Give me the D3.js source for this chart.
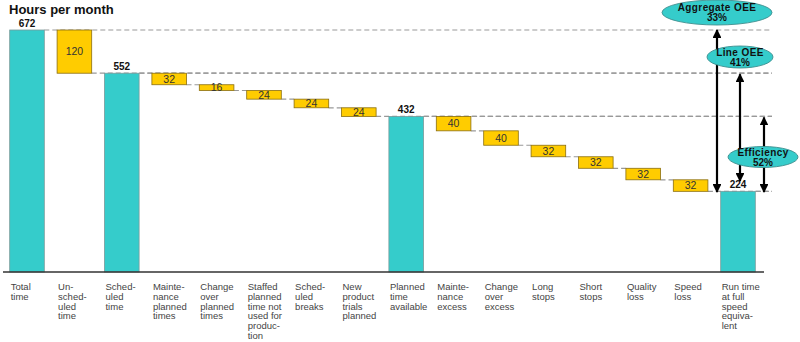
<!DOCTYPE html>
<html><head><meta charset="utf-8">
<script src="https://cdn.jsdelivr.net/npm/d3@7"></script>
<style>
html,body{margin:0;padding:0;background:#fff;}
svg{display:block;font-family:Arial,"Liberation Sans",sans-serif;}
</style></head>
<body><svg id="c" width="800" height="342"></svg>
<script>
const categories = ["Total time","Un-scheduled time","Scheduled time","Maintenance planned times","Change over planned times","Staffed planned time not used for production","Scheduled breaks","New product trials planned","Planned time available","Maintenance excess","Change over excess","Long stops","Short stops","Quality loss","Speed loss","Run time at full speed equivalent"];
const categoryLines = [["Total","time"],["Un-","sched-","uled","time"],["Sched-","uled","time"],["Mainte-","nance","planned","times"],["Change","over","planned","times"],["Staffed","planned","time not","used for","produc-","tion"],["Sched-","uled","breaks"],["New","product","trials","planned"],["Planned","time","available"],["Mainte-","nance","excess"],["Change","over","excess"],["Long","stops"],["Short","stops"],["Quality","loss"],["Speed","loss"],["Run time","at full","speed","equiva-","lent"]];
const values = [672,120,552,32,16,24,24,24,432,40,40,32,32,32,32,224];
const isTotal = [true,false,true,false,false,false,false,false,true,false,false,false,false,false,false,true];
const metricNames = ["Aggregate OEE","Line OEE","Efficiency"];
const metricValues = ["33%","41%","52%"];
const metricFrom = [672,552,432];
const metricTo = [224,224,224];

const svg = d3.select("#c");
const x = d3.scaleBand().domain(categories).range([3.3,761.7]).paddingInner(0.27).paddingOuter(0.135);
const y = d3.scaleLinear().domain([0,672]).range([272,30]);

// waterfall extents
let run = 0; const bars = [];
categories.forEach((c,i)=>{
  if(isTotal[i]){ run = values[i]; bars.push({c,i,lo:0,hi:values[i]}); }
  else { bars.push({c,i,lo:run-values[i],hi:run}); run -= values[i]; }
});

// dashed connectors
const dash = svg.append("g").attr("stroke","#999").attr("stroke-width",1.2).attr("stroke-dasharray","5,3");
bars.forEach((b,i)=>{
  if(i===bars.length-1) return;
  const next = bars[i+1];
  const level = isTotal[i] ? b.hi : b.lo;
  const x1 = x(b.c)+x.bandwidth();
  let x2 = x(next.c);
  if(isTotal[i] || isTotal[i+1]) x2 = 772;
  dash.append("line").attr("x1",x1).attr("x2",x2).attr("y1",y(level)).attr("y2",y(level));
});
dash.append("line").attr("x1",x(categories[15])+x.bandwidth()).attr("x2",772).attr("y1",y(224)).attr("y2",y(224));

// bars
svg.append("g").selectAll("rect").data(bars).join("rect")
  .attr("x",d=>x(d.c)).attr("width",x.bandwidth())
  .attr("y",d=>y(d.hi)).attr("height",d=>y(d.lo)-y(d.hi))
  .attr("fill",d=>isTotal[d.i]?"#35CCCB":"#FFCC00")
  .attr("stroke",d=>isTotal[d.i]?"#7a9a9a":"#8a6e10").attr("stroke-width",0.8);

// value labels
svg.append("g").selectAll("text").data(bars).join("text")
  .attr("x",d=>x(d.c)+x.bandwidth()/2)
  .attr("y",d=>isTotal[d.i]? y(d.hi)-3 : (y(d.hi)+y(d.lo))/2+3.8)
  .attr("text-anchor","middle")
  .attr("font-size",d=>isTotal[d.i]?10:10.5)
  .attr("font-weight",d=>isTotal[d.i]?"bold":"normal")
  .attr("fill",d=>isTotal[d.i]?"#111":"#333")
  .text(d=>values[d.i]);

// axis baseline
const ax = svg.append("g").attr("transform","translate(0,272)")
  .call(d3.axisBottom(x).tickSize(0).tickFormat(""));
ax.select(".domain").attr("d","M3,0H764").attr("stroke","#333").attr("stroke-width",1.6);

// category labels
const lab = svg.append("g").attr("font-size",9.5).attr("fill","#444");
categories.forEach((c,i)=>{
  const t = lab.append("text").attr("x",x(c)+1).attr("y",290);
  categoryLines[i].forEach((l,j)=>t.append("tspan").attr("x",x(c)+1).attr("dy",j?9.8:0).text(l));
});

// title
svg.append("text").attr("x",9).attr("y",13.5).attr("font-size",13).attr("font-weight","bold").attr("fill","#111").text("Hours per month");

// arrows
const defs = svg.append("defs");
defs.append("marker").attr("id","ah").attr("viewBox","0 0 10 10").attr("refX",9).attr("refY",5)
  .attr("markerWidth",4).attr("markerHeight",4).attr("orient","auto-start-reverse")
  .append("path").attr("d","M0,0L10,5L0,10Z").attr("fill","#000");
const arrowX = [717,740,764];
const arrowBottom = [192,181,192];
const arrowTop = [y(metricFrom[0]), y(metricFrom[1])+1, y(metricFrom[2])+1];
metricNames.forEach((m,i)=>{
  svg.append("line").attr("x1",arrowX[i]).attr("x2",arrowX[i])
    .attr("y1",arrowTop[i]).attr("y2",arrowBottom[i])
    .attr("stroke","#000").attr("stroke-width",2.2)
    .attr("marker-start","url(#ah)").attr("marker-end","url(#ah)");
});

// ellipses
const ell = [{cx:717,cy:12.5,rx:55,ry:12.5},{cx:740,cy:57,rx:33,ry:11},{cx:763,cy:157,rx:35,ry:10.5}];
ell.forEach((e,i)=>{
  svg.append("ellipse").attr("cx",e.cx).attr("cy",e.cy).attr("rx",e.rx).attr("ry",e.ry)
    .attr("fill","#35CCCB").attr("stroke","#3f8f8f").attr("stroke-width",0.9);
  svg.append("text").attr("x",e.cx).attr("y",e.cy-1.5).attr("text-anchor","middle")
    .attr("font-size",10).attr("font-weight","bold").attr("letter-spacing",0.4).attr("fill","#111").text(metricNames[i]);
  svg.append("text").attr("x",e.cx).attr("y",e.cy+8.5).attr("text-anchor","middle")
    .attr("font-size",10).attr("font-weight","bold").attr("fill","#111").text(metricValues[i]);
});
</script></body></html>
